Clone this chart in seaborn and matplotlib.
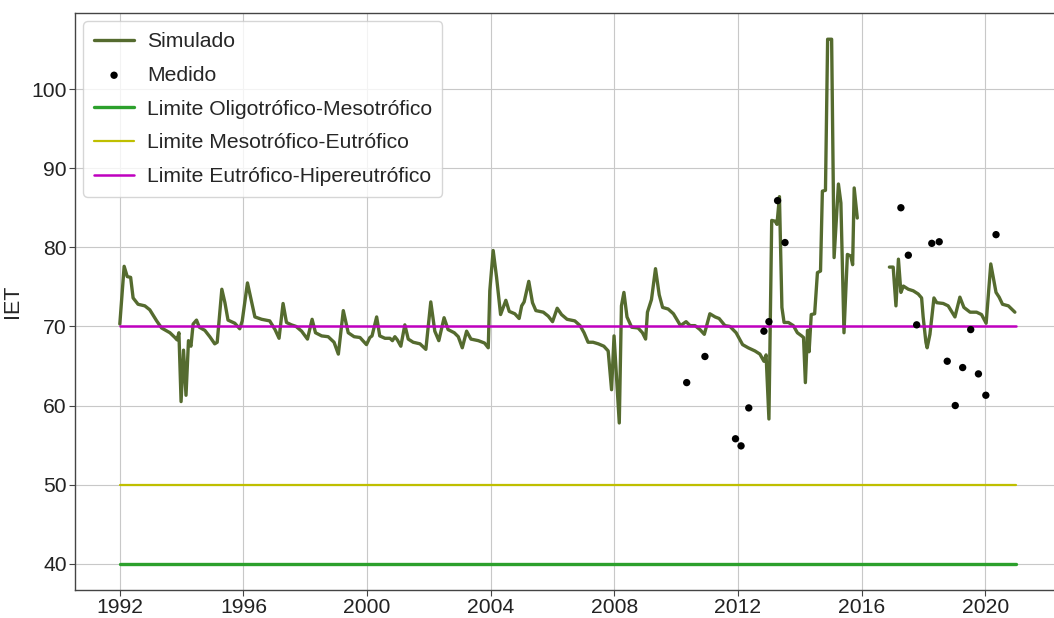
import numpy as np
import pandas as pd
import matplotlib
matplotlib.use("Agg")
import matplotlib.pyplot as plt
import matplotlib.dates as mdates
import seaborn as sns

# Simulated trophic state index (IET), first stretch 1992 - late 2015
sim_years_a = [
    1992.00, 1992.14, 1992.24, 1992.35, 1992.43, 1992.59, 1992.81, 1992.97,
    1993.19, 1993.35, 1993.62, 1993.78, 1993.85, 1993.91, 1993.98, 1994.06,
    1994.14, 1994.22, 1994.30, 1994.37, 1994.48, 1994.57, 1994.75, 1994.91,
    1995.07, 1995.15, 1995.30, 1995.40, 1995.50, 1995.72, 1995.88, 1995.96,
    1996.13, 1996.26, 1996.37, 1996.59, 1996.85, 1997.02, 1997.15, 1997.28,
    1997.39, 1997.55, 1997.70, 1997.88, 1998.07, 1998.22, 1998.33, 1998.53,
    1998.74, 1998.93, 1999.07, 1999.23, 1999.39, 1999.58, 1999.77, 1999.98,
    2000.09, 2000.16, 2000.31, 2000.41, 2000.58, 2000.74, 2000.82, 2000.90,
    2000.98, 2001.09, 2001.22, 2001.33, 2001.49, 2001.71, 2001.90, 2002.06,
    2002.19, 2002.32, 2002.49, 2002.62, 2002.82, 2002.95, 2003.08, 2003.22,
    2003.36, 2003.60, 2003.80, 2003.92, 2003.97, 2004.08, 2004.19, 2004.32,
    2004.49, 2004.60, 2004.78, 2004.92, 2005.00, 2005.08, 2005.23, 2005.35,
    2005.46, 2005.70, 2005.86, 2006.00, 2006.15, 2006.29, 2006.47, 2006.72,
    2006.89, 2007.02, 2007.15, 2007.31, 2007.48, 2007.66, 2007.80, 2007.91,
    2007.99, 2008.16, 2008.23, 2008.31, 2008.41, 2008.56, 2008.77, 2008.91,
    2009.01, 2009.07, 2009.20, 2009.33, 2009.45, 2009.56, 2009.74, 2009.91,
    2010.14, 2010.32, 2010.45, 2010.61, 2010.77, 2010.91, 2011.09, 2011.26,
    2011.39, 2011.58, 2011.74, 2011.94, 2012.15, 2012.33, 2012.55, 2012.71,
    2012.84, 2012.91, 2013.00, 2013.09, 2013.20, 2013.26, 2013.34, 2013.42,
    2013.49, 2013.63, 2013.79, 2013.92, 2014.06, 2014.12, 2014.18, 2014.25,
    2014.30, 2014.37, 2014.48, 2014.57, 2014.67, 2014.73, 2014.83, 2014.90,
    2015.03, 2015.11, 2015.25, 2015.33, 2015.43, 2015.54, 2015.65, 2015.71,
    2015.76, 2015.86,
]
sim_iet_a = [
    70.3, 77.6, 76.3, 76.2, 73.6, 72.8, 72.6, 72.1,
    70.7, 69.8, 69.2, 68.6, 68.3, 69.2, 60.5, 67.0,
    61.3, 68.2, 67.5, 70.3, 70.8, 69.9, 69.5, 68.7,
    67.8, 68.0, 74.7, 73.0, 70.8, 70.4, 69.7, 70.7,
    75.5, 73.2, 71.2, 70.9, 70.7, 69.6, 68.5, 72.9,
    70.5, 70.2, 70.0, 69.4, 68.4, 70.9, 69.2, 68.8,
    68.7, 68.0, 66.5, 72.0, 69.2, 68.7, 68.6, 67.7,
    68.6, 68.8, 71.2, 68.8, 68.5, 68.5, 68.2, 68.7,
    68.3, 67.5, 70.2, 68.4, 68.0, 67.8, 67.1, 73.1,
    69.4, 68.2, 71.1, 69.6, 69.2, 68.7, 67.3, 69.4,
    68.4, 68.2, 67.9, 67.3, 74.5, 79.6, 76.2, 71.5,
    73.3, 71.9, 71.6, 71.0, 72.6, 73.1, 75.7, 73.0,
    72.0, 71.8, 71.3, 70.6, 72.3, 71.5, 70.9, 70.7,
    70.1, 69.2, 68.0, 68.0, 67.8, 67.5, 66.9, 62.0,
    68.8, 57.8, 72.6, 74.3, 71.2, 69.9, 69.8, 69.2,
    68.4, 71.8, 73.4, 77.3, 74.0, 72.4, 72.2, 71.6,
    70.1, 70.6, 70.1, 70.1, 69.6, 69.0, 71.6, 71.2,
    71.0, 70.1, 70.0, 69.2, 67.7, 67.3, 66.9, 66.5,
    65.6, 66.4, 58.3, 83.4, 83.3, 82.9, 86.4, 72.4,
    70.5, 70.5, 70.1, 69.2, 68.8, 68.6, 62.9, 69.5,
    66.8, 71.5, 71.6, 76.8, 77.0, 87.1, 87.2, 106.3,
    106.3, 78.7, 88.0, 85.6, 69.2, 79.1, 78.9, 77.8,
    87.5, 83.7,
]

# Simulated IET, second stretch from late 2016 onwards
sim_years_b = [
    2016.90, 2017.02, 2017.11, 2017.19, 2017.27, 2017.35, 2017.51, 2017.67,
    2017.83, 2017.94, 2017.99, 2018.08, 2018.12, 2018.21, 2018.34, 2018.43,
    2018.64, 2018.80, 2019.02, 2019.18, 2019.31, 2019.51, 2019.72, 2019.88,
    2020.03, 2020.18, 2020.35, 2020.45, 2020.56, 2020.75, 2020.96,
]
sim_iet_b = [
    77.5, 77.5, 72.6, 78.5, 74.3, 75.1, 74.7, 74.5,
    74.1, 73.6, 71.2, 68.0, 67.3, 69.0, 73.6, 73.0,
    72.9, 72.6, 71.2, 73.7, 72.4, 71.8, 71.8, 71.5,
    70.4, 77.9, 74.3, 73.7, 72.8, 72.6, 71.8,
]

# Field measurements
obs_years = [
    2010.34, 2010.93, 2011.92, 2012.10, 2012.35, 2012.84, 2013.00, 2013.28,
    2013.52, 2017.27, 2017.51, 2017.78, 2018.27, 2018.51, 2018.77, 2019.03,
    2019.27, 2019.53, 2019.78, 2020.02, 2020.35,
]
obs_iet = [
    62.9, 66.2, 55.8, 54.9, 59.7, 69.4, 70.6, 85.9,
    80.6, 85.0, 79.0, 70.2, 80.5, 80.7, 65.6, 60.0,
    64.8, 69.6, 64.0, 61.3, 81.6,
]

# Trophic class boundaries
limit_names = [
    "Limite Oligotrófico-Mesotrófico",
    "Limite Mesotrófico-Eutrófico",
    "Limite Eutrófico-Hipereutrófico",
]
limit_values = [40, 50, 70]
limit_colors = ["#2ca02c", "#bfbf00", "#bf00bf"]
limit_widths = [2.4, 1.6, 1.8]
limit_span = ["1992-01-01", "2021-01-01"]


def to_dates(years):
    years = np.asarray(years, dtype=float)
    whole = np.floor(years).astype(int)
    start = pd.to_datetime([f"{y}-01-01" for y in whole])
    return start + pd.to_timedelta((years - whole) * 365.25, unit="D")


sim_a = pd.DataFrame({"data": to_dates(sim_years_a), "IET": sim_iet_a})
sim_b = pd.DataFrame({"data": to_dates(sim_years_b), "IET": sim_iet_b})
obs = pd.DataFrame({"data": to_dates(obs_years), "IET": obs_iet})

sns.set_theme(style="whitegrid")
plt.rcParams["font.family"] = ["Liberation Sans", "DejaVu Sans"]

fig = plt.figure(figsize=(10.54, 6.18), dpi=100)
ax = fig.add_axes([75 / 1054, 28 / 618, 986 / 1054, 577 / 618])

sim_color = "#556b2f"
sns.lineplot(data=sim_a, x="data", y="IET", color=sim_color, linewidth=2.4,
             label="Simulado", ax=ax)
sns.lineplot(data=sim_b, x="data", y="IET", color=sim_color, linewidth=2.4,
             label="_nolegend_", ax=ax)
sns.scatterplot(data=obs, x="data", y="IET", color="black", s=28,
                edgecolor="none", label="Medido", ax=ax, zorder=3)

for name, val, col, lw in zip(limit_names, limit_values, limit_colors, limit_widths):
    seg = pd.DataFrame({"data": pd.to_datetime(limit_span), "IET": [val, val]})
    sns.lineplot(data=seg, x="data", y="IET", color=col, linewidth=lw,
                 label=name, ax=ax)

ax.set_yticks([40, 50, 60, 70, 80, 90, 100])
ax.xaxis.set_major_locator(mdates.YearLocator(4))
ax.xaxis.set_major_formatter(mdates.DateFormatter("%Y"))

ax.set_xlabel("")
ax.set_ylabel("IET", fontsize=15.5, labelpad=6)
ax.tick_params(axis="both", labelsize=15.2, length=4, width=0.8, pad=2,
               color="#444444", left=True, bottom=True, colors="#222222")
ax.grid(True, color="#c8c8c8", linewidth=0.8)
for side in ["left", "bottom", "top", "right"]:
    ax.spines[side].set_color("#444444")
    ax.spines[side].set_linewidth(1.0)

handles, labels = ax.get_legend_handles_labels()
order = ["Simulado", "Medido"] + limit_names
hmap = dict(zip(labels, handles))
ax.legend([hmap[k] for k in order], order, loc="upper left", fontsize=15.2,
          frameon=True, facecolor="white", edgecolor="#cccccc",
          framealpha=0.8, labelspacing=0.7, handlelength=1.9,
          handletextpad=0.6, borderpad=0.5, borderaxespad=0.4)

fig.savefig("out.png", dpi=100)
